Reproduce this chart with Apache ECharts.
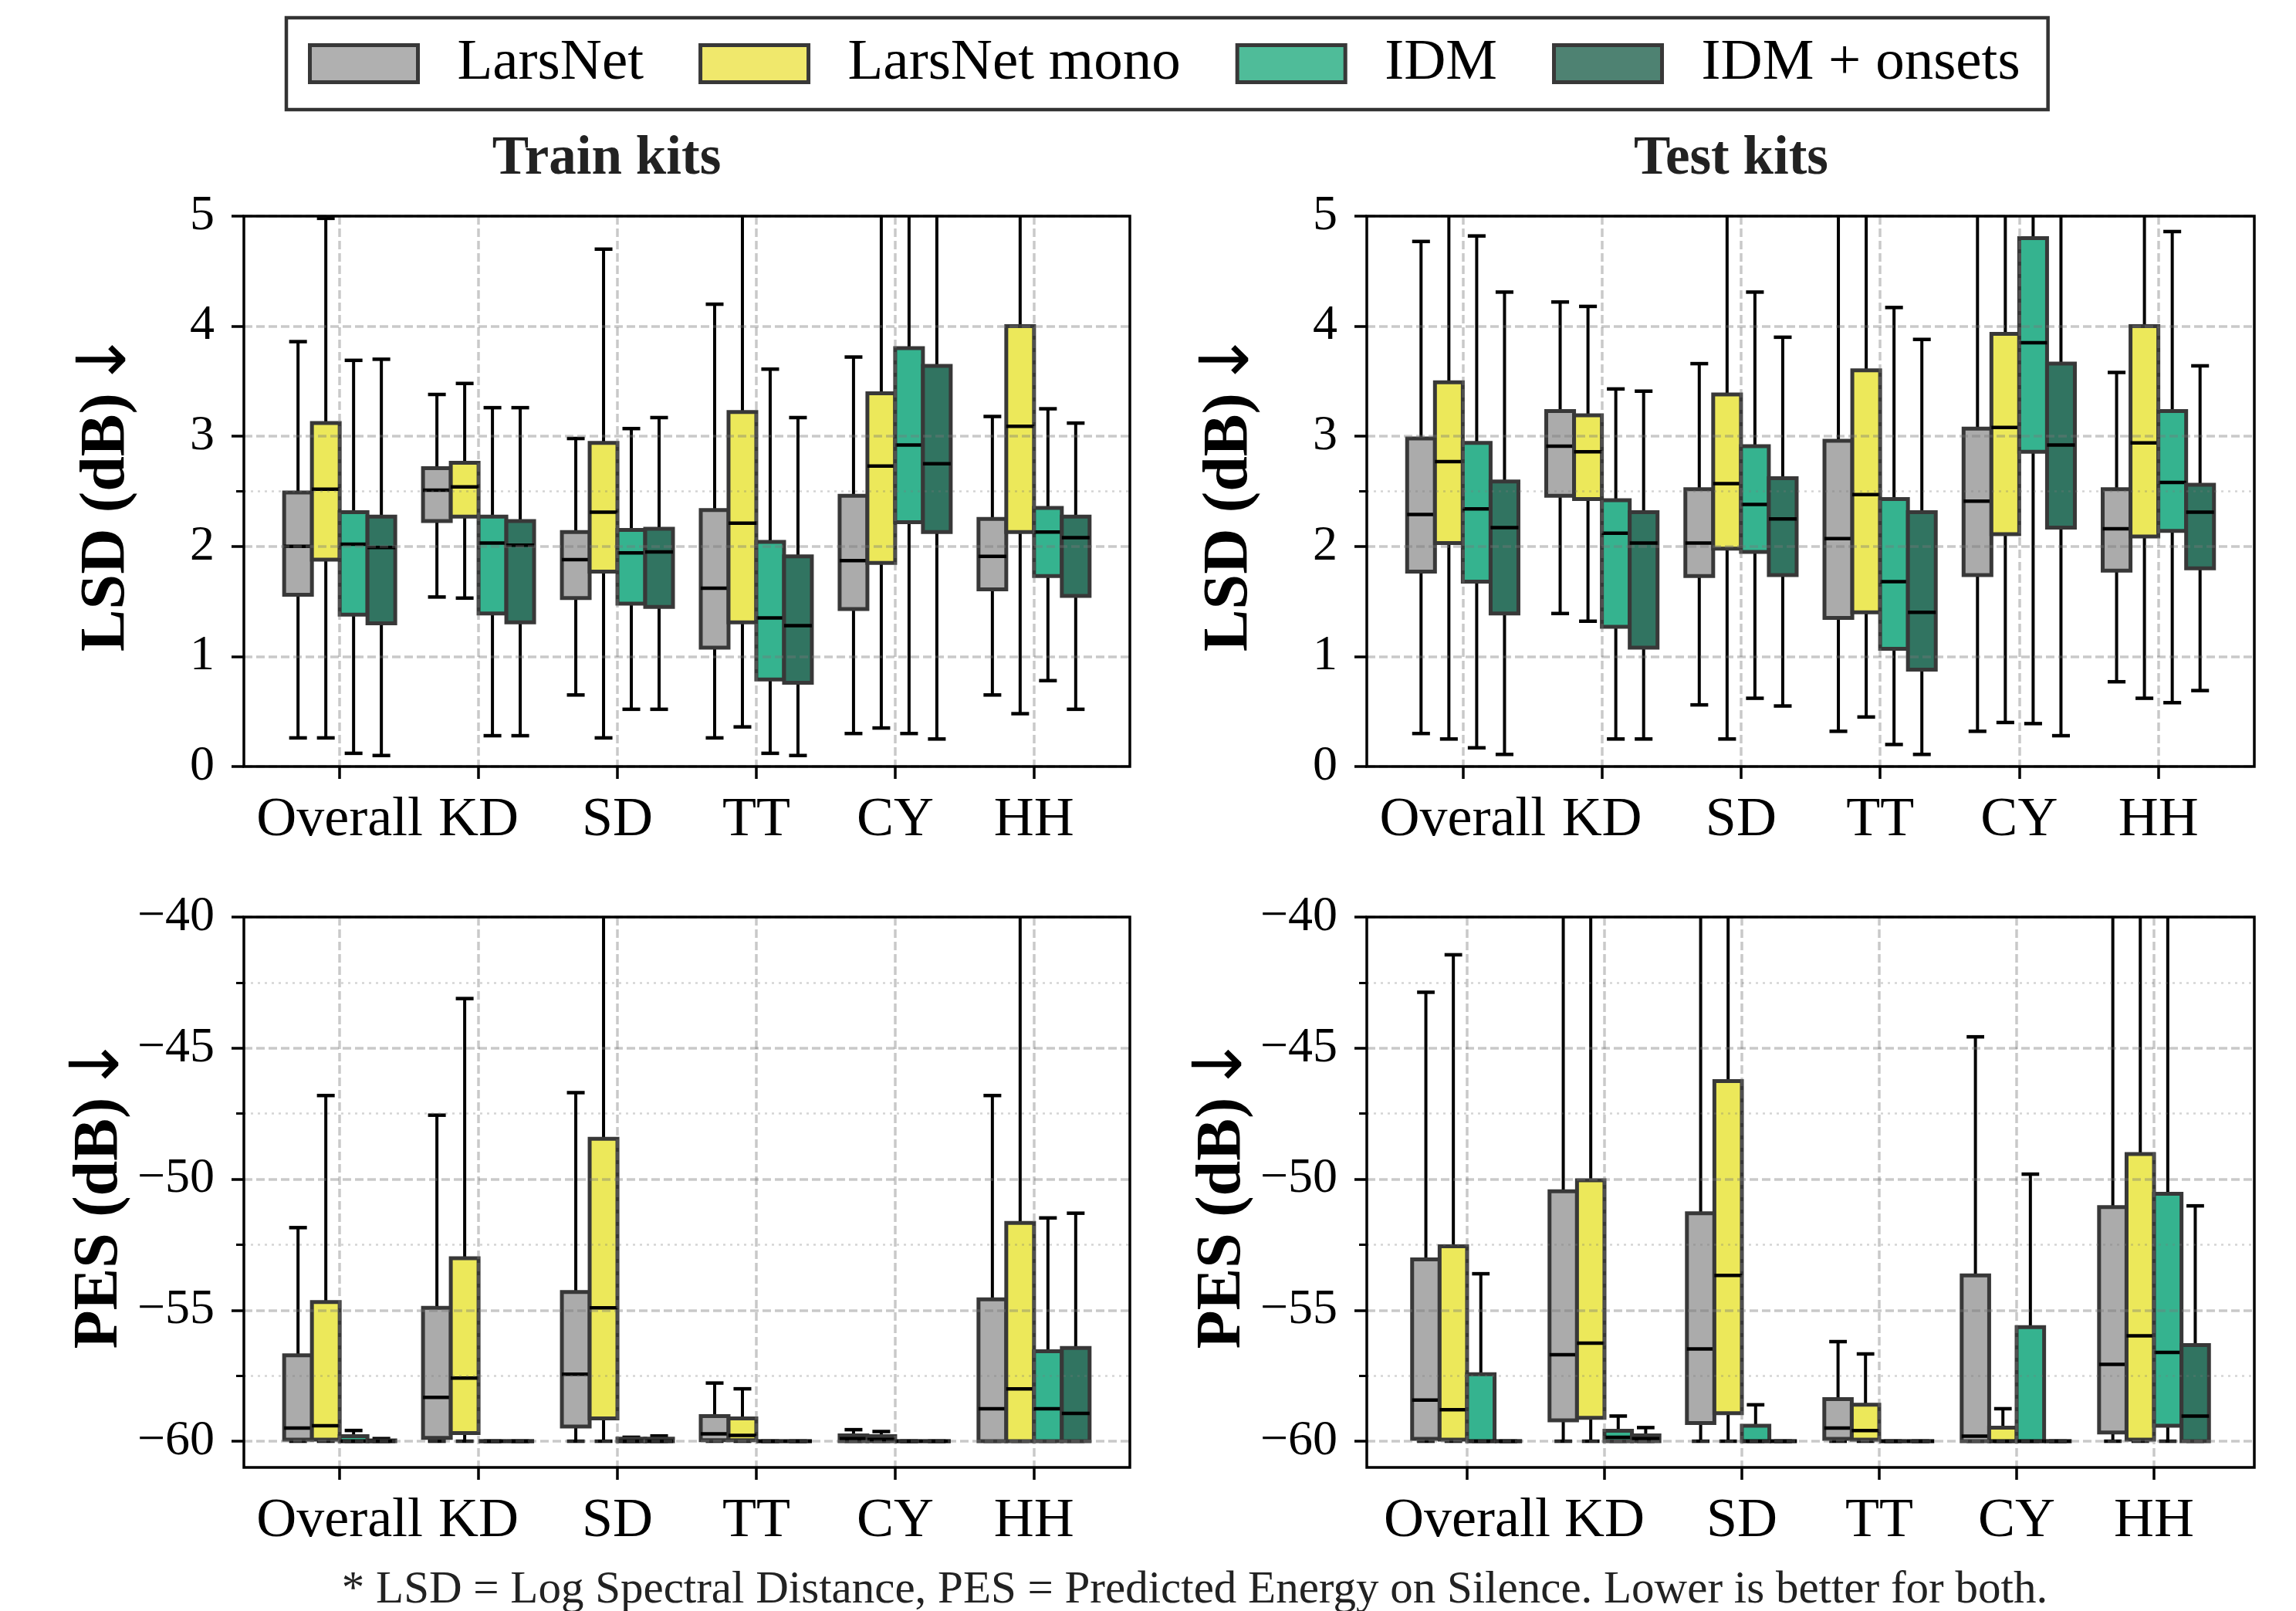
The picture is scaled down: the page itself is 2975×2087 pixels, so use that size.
<!DOCTYPE html>
<html>
<head>
<meta charset="utf-8">
<script src="https://cdn.jsdelivr.net/npm/echarts@6/dist/echarts.min.js"></script>
<style>
  html, body { margin: 0; padding: 0; background: #fff; }
  #chart { width: 2975px; height: 2087px; }
</style>
</head>
<body>
<div id="chart"></div>
<script>
const FONT = 'Liberation Serif';

const categories = ['Overall', 'KD', 'SD', 'TT', 'CY', 'HH'];
const models = ['LarsNet', 'LarsNet mono', 'IDM', 'IDM + onsets'];
const boxColors = ['#ababab', '#ece85a', '#35b38f', '#317461'];
const legendColors = ['#b0b0b0', '#f0e86c', '#4fbc99', '#4e8272'];

// one row per category: [lower whisker, Q1, median, Q3, upper whisker]
const trainLsdLarsNet = [[0.26, 1.56, 2.00, 2.49, 3.86], [1.54, 2.23, 2.51, 2.71, 3.38], [0.65, 1.53, 1.88, 2.13, 2.98], [0.26, 1.08, 1.62, 2.33, 4.20], [0.30, 1.43, 1.87, 2.46, 3.72], [0.65, 1.61, 1.91, 2.25, 3.18]];
const trainLsdMono = [[0.26, 1.88, 2.52, 3.12, 4.98], [1.53, 2.27, 2.54, 2.76, 3.48], [0.26, 1.77, 2.31, 2.94, 4.70], [0.36, 1.31, 2.21, 3.22, 5.60], [0.35, 1.85, 2.73, 3.39, 5.90], [0.48, 2.13, 3.09, 4.00, 6.10]];
const trainLsdIdm = [[0.12, 1.38, 2.02, 2.31, 3.69], [0.28, 1.39, 2.03, 2.27, 3.26], [0.52, 1.48, 1.94, 2.15, 3.07], [0.12, 0.79, 1.35, 2.04, 3.61], [0.30, 2.22, 2.92, 3.80, 6.20], [0.78, 1.73, 2.13, 2.35, 3.25]];
const trainLsdOnsets = [[0.10, 1.30, 1.99, 2.27, 3.70], [0.28, 1.31, 2.01, 2.23, 3.26], [0.52, 1.45, 1.95, 2.16, 3.17], [0.10, 0.76, 1.28, 1.91, 3.17], [0.25, 2.13, 2.75, 3.64, 6.00], [0.52, 1.55, 2.08, 2.27, 3.12]];

const testLsdLarsNet = [[0.30, 1.77, 2.29, 2.98, 4.77], [1.39, 2.46, 2.91, 3.23, 4.22], [0.56, 1.73, 2.03, 2.52, 3.66], [0.32, 1.35, 2.07, 2.96, 5.50], [0.32, 1.74, 2.41, 3.07, 5.70], [0.77, 1.78, 2.16, 2.52, 3.58]];
const testLsdMono = [[0.25, 2.03, 2.77, 3.49, 5.60], [1.32, 2.43, 2.86, 3.19, 4.18], [0.25, 1.98, 2.57, 3.38, 5.50], [0.45, 1.40, 2.47, 3.60, 5.90], [0.40, 2.11, 3.08, 3.93, 6.10], [0.62, 2.09, 2.94, 4.00, 6.00]];
const testLsdIdm = [[0.17, 1.68, 2.34, 2.94, 4.82], [0.25, 1.27, 2.12, 2.42, 3.43], [0.62, 1.95, 2.38, 2.91, 4.31], [0.20, 1.07, 1.68, 2.43, 4.17], [0.39, 2.86, 3.85, 4.80, 7.00], [0.58, 2.14, 2.58, 3.23, 4.86]];
const testLsdOnsets = [[0.11, 1.39, 2.17, 2.59, 4.31], [0.25, 1.08, 2.03, 2.31, 3.41], [0.55, 1.74, 2.25, 2.62, 3.90], [0.11, 0.88, 1.40, 2.31, 3.88], [0.28, 2.17, 2.92, 3.66, 5.80], [0.69, 1.80, 2.31, 2.56, 3.64]];

const trainPesLarsNet = [[-60, -59.94, -59.50, -56.72, -51.85], [-60, -59.87, -58.33, -54.91, -47.56], [-60, -59.44, -57.44, -54.31, -46.70], [-60, -59.96, -59.72, -59.04, -57.78], [-60, -60, -59.90, -59.78, -59.56], [-60, -60, -58.76, -54.59, -46.81]];
const trainPesMono = [[-60, -59.94, -59.41, -54.69, -46.81], [-60, -59.69, -57.59, -53.02, -43.11], [-60, -59.13, -54.91, -48.46, -36.00], [-60, -59.96, -59.78, -59.13, -58.00], [-60, -60, -59.93, -59.81, -59.63], [-60, -60, -58.00, -51.67, -38.00]];
const trainPesIdm = [[-60, -60, -60, -59.81, -59.59], [-60, -60, -60, -60, -60], [-60, -60, -60, -59.90, -59.85], [-60, -60, -60, -60, -60], [-60, -60, -60, -60, -60], [-60, -60, -58.76, -56.57, -51.48]];
const trainPesOnsets = [[-60, -60, -60, -59.97, -59.90], [-60, -60, -60, -60, -60], [-60, -60, -60, -59.90, -59.80], [-60, -60, -60, -60, -60], [-60, -60, -60, -60, -60], [-60, -60, -58.94, -56.44, -51.30]];

const testPesLarsNet = [[-60, -59.91, -58.43, -53.06, -42.87], [-60, -59.20, -56.70, -50.46, -35.00], [-60, -59.31, -56.48, -51.30, -34.00], [-60, -59.91, -59.50, -58.39, -56.20], [-60, -60, -59.81, -53.67, -44.57], [-60, -59.67, -57.07, -51.07, -36.00]];
const testPesMono = [[-60, -59.94, -58.80, -52.56, -41.44], [-60, -59.11, -56.26, -50.04, -34.00], [-60, -58.93, -53.67, -46.26, -30.00], [-60, -59.94, -59.59, -58.61, -56.67], [-60, -60, -60, -59.48, -58.76], [-60, -59.94, -55.98, -49.04, -33.00]];
const testPesIdm = [[-60, -60, -60, -57.44, -53.61], [-60, -60, -59.85, -59.60, -59.04], [-60, -60, -60, -59.41, -58.61], [-60, -60, -60, -60, -60], [-60, -60, -60, -55.65, -49.81], [-60, -59.41, -56.61, -50.56, -36.00]];
const testPesOnsets = [[-60, -60, -60, -60, -60], [-60, -60, -59.90, -59.78, -59.48], [-60, -60, -60, -60, -60], [-60, -60, -60, -60, -60], [-60, -60, -60, -60, -60], [-60, -60, -59.04, -56.33, -51.02]];

const lsdTicks = [0, 1, 2, 3, 4, 5];
const lsdMinorTicks = [2.5];
const pesTicks = [-60, -55, -50, -45, -40];
const pesMinorTicks = [-57.5, -52.5, -47.5, -42.5];
const catTicks = [0, 1, 2, 3, 4, 5];

const panels = [
  { data: [trainLsdLarsNet, trainLsdMono, trainLsdIdm, trainLsdOnsets], left: 316, top: 280, width: 1148, yMin: 0, yMax: 5, ticks: lsdTicks, minor: lsdMinorTicks, xMin: -0.69, xMax: 5.69, name: 'LSD (dB)' },
  { data: [testLsdLarsNet, testLsdMono, testLsdIdm, testLsdOnsets], left: 1771, top: 280, width: 1150, yMin: 0, yMax: 5, ticks: lsdTicks, minor: lsdMinorTicks, xMin: -0.69, xMax: 5.69, name: 'LSD (dB)' },
  { data: [trainPesLarsNet, trainPesMono, trainPesIdm, trainPesOnsets], left: 316, top: 1188, width: 1148, yMin: -61, yMax: -40, ticks: pesTicks, minor: pesMinorTicks, xMin: -0.69, xMax: 5.69, name: 'PES (dB)' },
  { data: [testPesLarsNet, testPesMono, testPesIdm, testPesOnsets], left: 1771, top: 1188, width: 1150, yMin: -61, yMax: -40, ticks: pesTicks, minor: pesMinorTicks, xMin: -0.73, xMax: 5.73, name: 'PES (dB)' }
];

const minus = v => String(v).replace('-', '\u2212');

function boxRenderer(k) {
  return function (params, api) {
    const c = api.value(0);
    const lo = api.value(1), q1 = api.value(2), med = api.value(3), q3 = api.value(4), hi = api.value(5);
    const w = api.size([1, 0])[0] * 0.2;
    const x = api.coord([c, med])[0] + (k - 1.5) * w;
    const y = v => api.coord([c, v])[1];
    const cap = w * 0.32;
    const black = { stroke: '#000', lineWidth: 4 };
    return {
      type: 'group',
      children: [
        { type: 'line', shape: { x1: x, y1: y(hi), x2: x, y2: y(q3) }, style: black },
        { type: 'line', shape: { x1: x, y1: y(q1), x2: x, y2: y(lo) }, style: black },
        { type: 'line', shape: { x1: x - cap, y1: y(hi), x2: x + cap, y2: y(hi) }, style: { stroke: '#000', lineWidth: 4.5 } },
        { type: 'line', shape: { x1: x - cap, y1: y(lo), x2: x + cap, y2: y(lo) }, style: { stroke: '#000', lineWidth: 4.5 } },
        { type: 'rect', shape: { x: x - w / 2, y: y(q3), width: w, height: y(q1) - y(q3) },
          style: { fill: boxColors[k], stroke: '#383838', lineWidth: 5 } },
        { type: 'line', shape: { x1: x - w / 2, y1: y(med), x2: x + w / 2, y2: y(med) }, style: { stroke: '#000', lineWidth: 4.5 } }
      ]
    };
  };
}

const gridLine = { show: true, lineStyle: { type: [11, 5], color: 'rgba(120,120,120,0.4)', width: 3.5 } };

const grids = [], xAxes = [], yAxes = [], series = [];
panels.forEach((p, i) => {
  grids.push({ left: p.left, top: p.top, width: p.width, height: 713, show: true, z: 4,
    borderColor: '#000', borderWidth: 3.5, backgroundColor: 'rgba(0,0,0,0)' });
  xAxes.push({
    type: 'value', gridIndex: i, min: p.xMin, max: p.xMax, z: 3,
    axisLine: { show: false, onZero: false },
    axisTick: { customValues: catTicks, length: 16, lineStyle: { color: '#000', width: 3.5 } },
    axisLabel: { customValues: catTicks, formatter: v => categories[v], margin: 34,
      fontFamily: FONT, fontSize: 72, color: '#000' },
    splitLine: gridLine
  });
  yAxes.push({
    type: 'value', gridIndex: i, min: p.yMin, max: p.yMax, position: 'left', z: 3,
    axisLine: { show: false, onZero: false },
    axisTick: { customValues: p.ticks, length: 16, lineStyle: { color: '#000', width: 3.5 } },
    axisLabel: { customValues: p.ticks, formatter: minus, margin: 38,
      fontFamily: FONT, fontSize: 64, color: '#000' },
    splitLine: gridLine,
    name: '{b|' + p.name + '}  {a|\u2193}',
    nameLocation: 'middle', nameRotate: 90, nameGap: 128,
    nameTextStyle: { rich: {
      b: { fontFamily: FONT, fontWeight: 'bold', fontSize: 82, lineHeight: 98, color: '#000' },
      a: { fontFamily: 'DejaVu Sans', fontSize: 88, lineHeight: 98, color: '#000' }
    } }
  });
  yAxes.push({
    type: 'value', gridIndex: i, min: p.yMin, max: p.yMax, position: 'left', z: 3,
    axisLine: { show: false, onZero: false },
    axisTick: { customValues: p.minor, length: 10, lineStyle: { color: '#000', width: 3 } },
    axisLabel: { show: false, customValues: p.minor },
    splitLine: { show: true, lineStyle: { type: [3, 6], color: 'rgba(120,120,120,0.32)', width: 2.5 } }
  });
  p.data.forEach((rows, k) => {
    series.push({
      type: 'custom', name: models[k], xAxisIndex: i, yAxisIndex: 2 * i, clip: true,
      itemStyle: { color: boxColors[k], borderColor: '#383838', borderWidth: 5 },
      encode: { x: 0, y: [1, 2, 3, 4, 5] },
      renderItem: boxRenderer(k),
      data: rows.map((r, c) => [c, ...r])
    });
  });
});

const chart = echarts.init(document.getElementById('chart'), null, { renderer: 'canvas' });
chart.setOption({
  animation: false,
  backgroundColor: '#fff',
  legend: {
    left: 371, top: 23,
    padding: [22, 36, 22, 28],
    borderColor: '#333', borderWidth: 4.5,
    itemWidth: 140, itemHeight: 48, itemGap: 71,
    icon: 'rect',
    textStyle: { fontFamily: FONT, fontSize: 75, color: '#000', padding: [0, 0, 0, 46] },
    data: models.map((m, k) => ({ name: m, itemStyle: { color: legendColors[k], borderColor: '#383838', borderWidth: 5 } }))
  },
  graphic: [
    { type: 'text', x: 786, y: 207, style: { text: 'Train kits', font: 'bold 71px "Liberation Serif"', fill: '#222', align: 'center', verticalAlign: 'middle' } },
    { type: 'text', x: 2243, y: 207, style: { text: 'Test kits', font: 'bold 71px "Liberation Serif"', fill: '#222', align: 'center', verticalAlign: 'middle' } },
    { type: 'text', x: 1548, y: 2060, style: { text: '* LSD = Log Spectral Distance, PES = Predicted Energy on Silence. Lower is better for both.', font: '59px "Liberation Serif"', fill: '#222', align: 'center', verticalAlign: 'middle' } }
  ],
  grid: grids,
  xAxis: xAxes,
  yAxis: yAxes,
  series: series
});
</script>
</body>
</html>
